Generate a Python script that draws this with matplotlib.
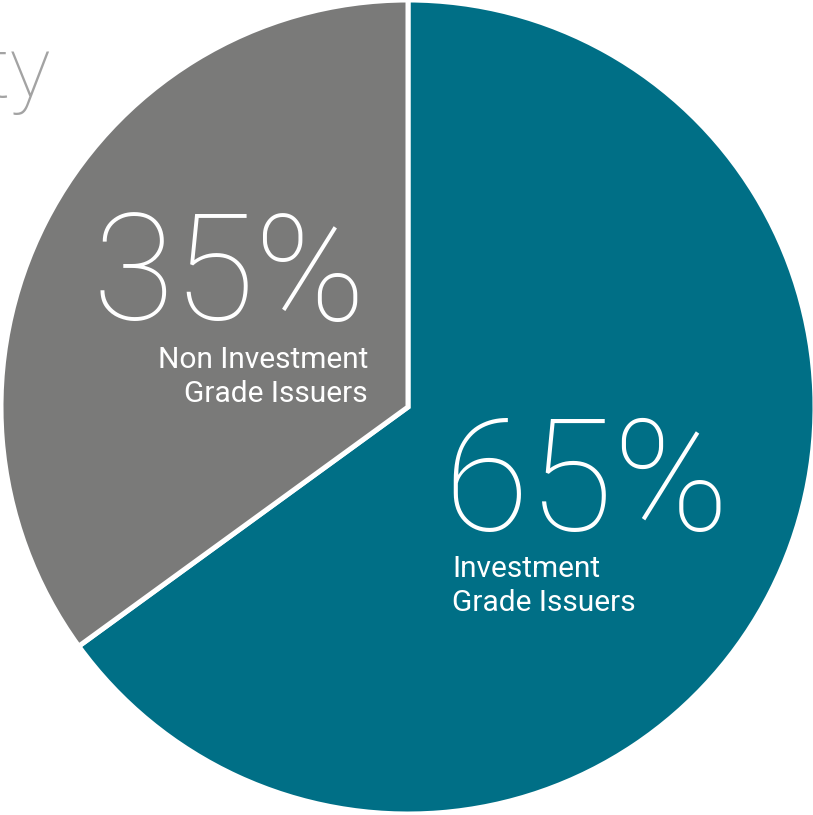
import matplotlib.pyplot as plt

# Issuer split
labels = [["Investment", "Grade Issuers"], ["Non Investment", "Grade Issuers"]]
shares = [65, 35]
colors = ["#006F86", "#7A7A79"]

W, H = 813, 815
fig = plt.figure(figsize=(W / 100, H / 100), dpi=100)
ax = fig.add_axes([0, 0, 1, 1])


def y(px):
    # pixel row (from top) -> data y
    return H - px


# heading fragment sitting behind the pie
ax.text(51, y(97), "ty", fontsize=62, color="#A3A3A3", family="Roboto",
        fontweight="light", ha="right", va="baseline", zorder=0)

wedges, _ = ax.pie(shares, colors=colors, startangle=90, counterclock=False,
                   center=(408, y(407)), radius=407,
                   wedgeprops=dict(edgecolor="white", linewidth=3.6))
for w in wedges:
    w.set_zorder(1)
ax.set_xlim(0, W)
ax.set_ylim(0, H)
ax.set_aspect("equal")
ax.axis("off")

big = dict(color="white", family="Roboto", fontweight="light",
           va="baseline", zorder=3)
cap = dict(color="white", family="Roboto", fontsize=21.5,
           va="baseline", zorder=3)

# 35% slice
ax.text(366, y(320), f"{shares[1]}%", fontsize=107, ha="right", **big)
for i, line in enumerate(labels[1]):
    ax.text(368, y(368 + 34 * i), line, ha="right", **cap)

# 65% slice
ax.text(443, y(530), f"{shares[0]}%", fontsize=112, ha="left", **big)
for i, line in enumerate(labels[0]):
    ax.text(452, y(577 + 34 * i), line, ha="left", **cap)

fig.savefig("out.png", dpi=100)
